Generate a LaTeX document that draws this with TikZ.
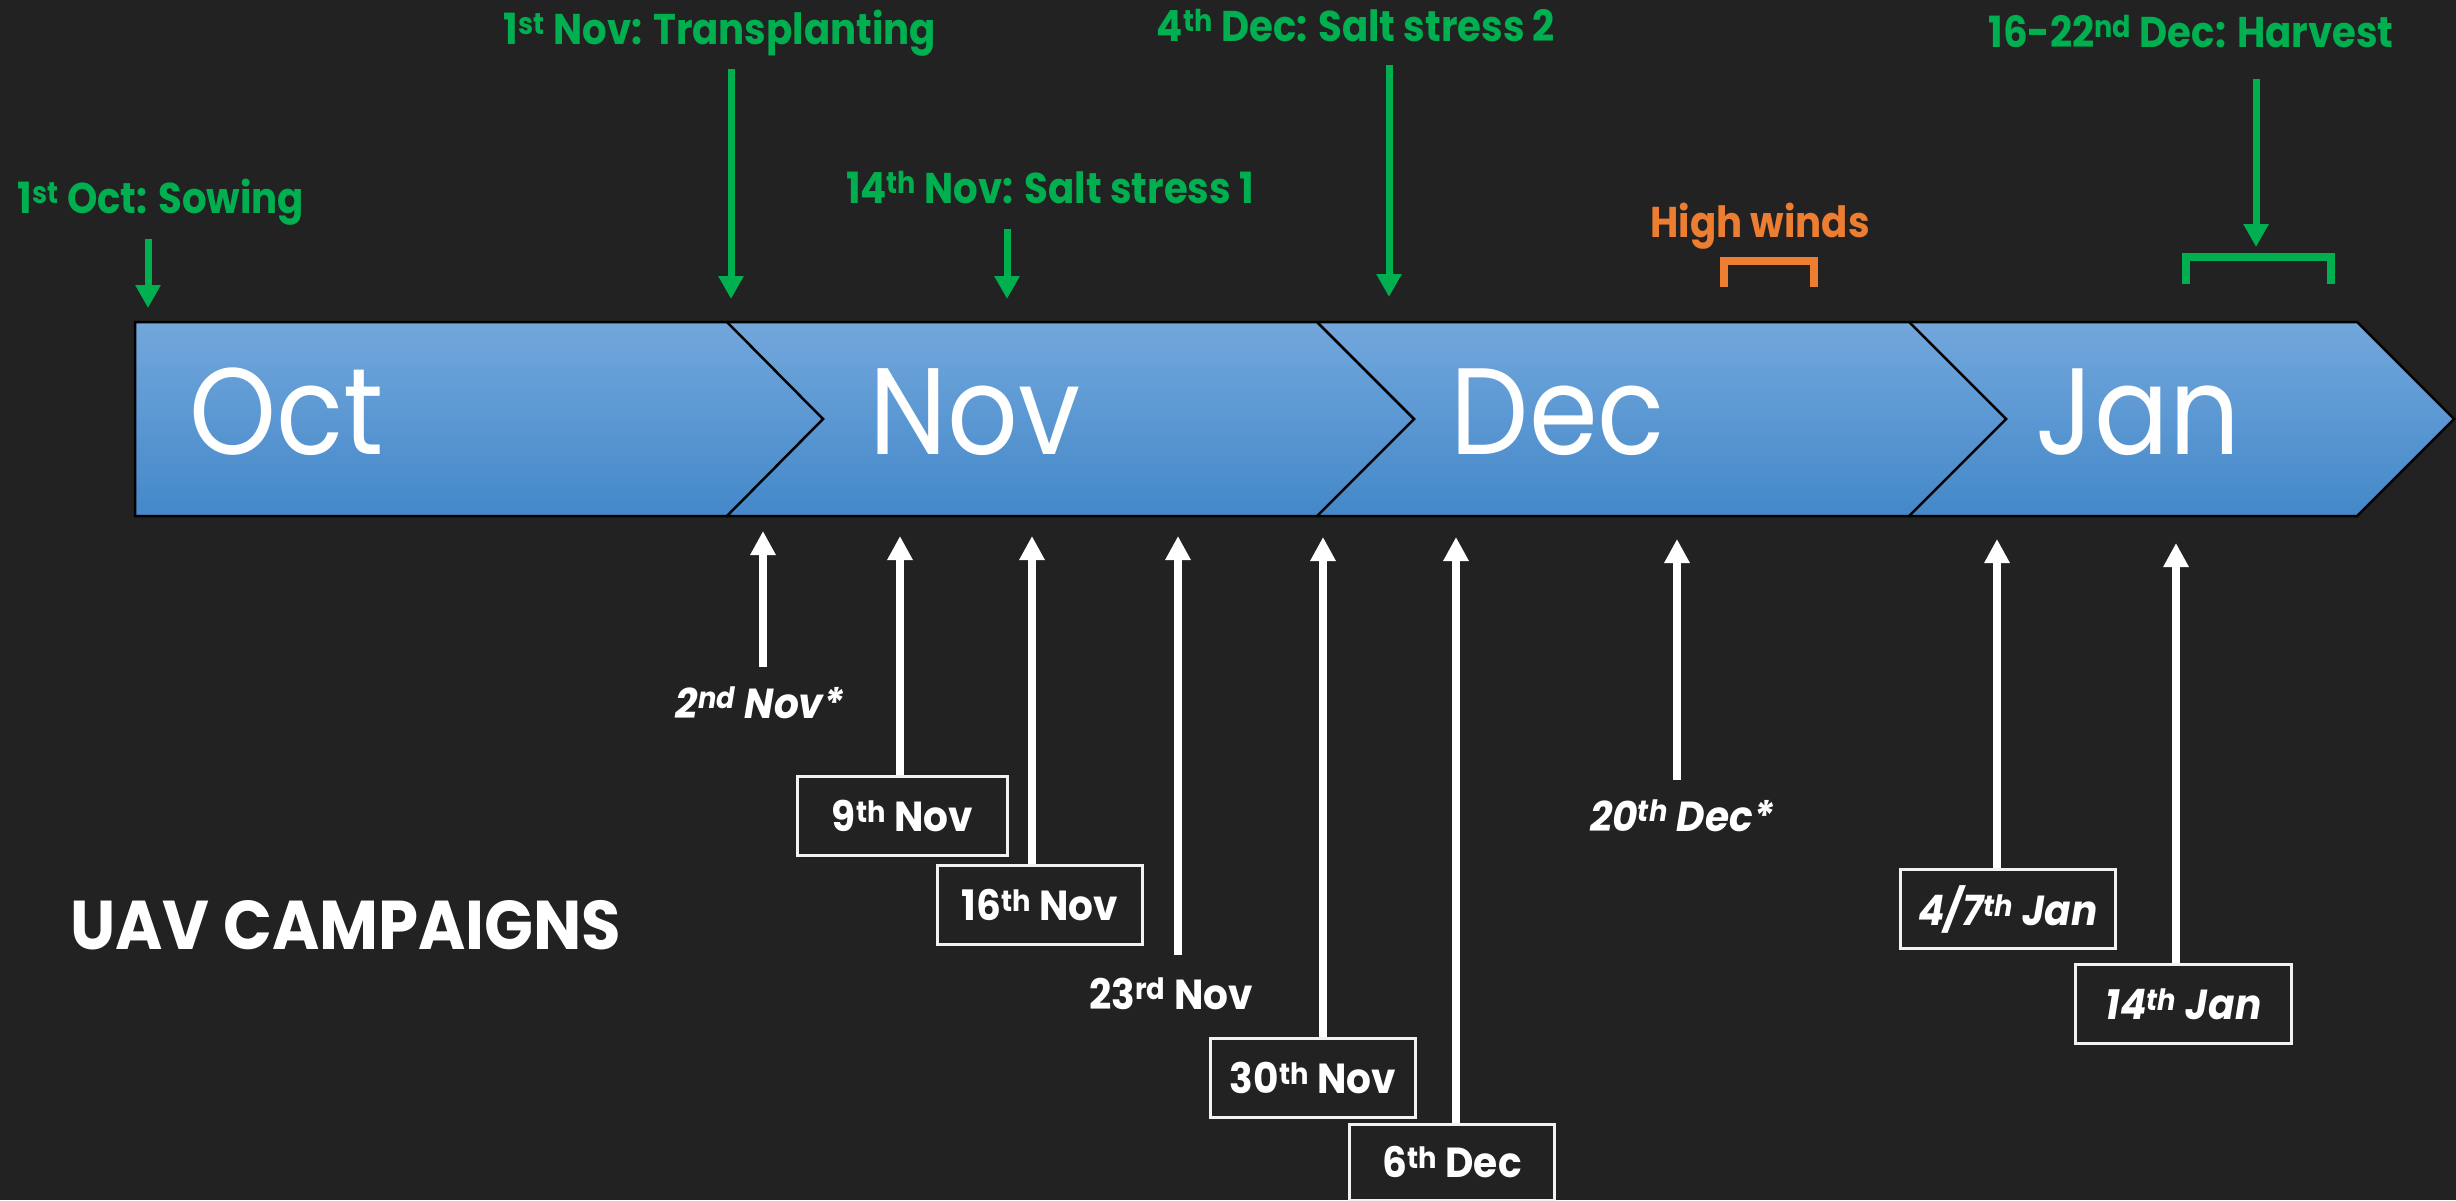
\documentclass[tikz,border=0pt]{standalone}
\usepackage{fontspec}
\setmainfont{Poppins}[FakeStretch=0.93]
\newfontfamily\gfont{Poppins}[FakeStretch=0.9]
\newfontfamily\monthfont{Poppins}[FakeStretch=0.9]
\usetikzlibrary{arrows.meta}
\definecolor{bg}{HTML}{222222}
\definecolor{grn}{HTML}{00B050}
\definecolor{org}{HTML}{ED7D31}
\definecolor{bandtop}{HTML}{72A7DC}
\definecolor{bandbot}{HTML}{4488C9}
\definecolor{boxline}{HTML}{F2F2F2}
\begin{document}
\begin{tikzpicture}[x=1pt,y=-1pt,
  month/.style={text=white,font=\monthfont\fontsize{123}{130}\selectfont,inner sep=0pt,anchor=base},
  glab/.style={text=grn,font=\gfont\bfseries\fontsize{43}{50}\selectfont,inner sep=0pt,anchor=base},
  olab/.style={text=org,font=\gfont\bfseries\fontsize{43}{50}\selectfont,inner sep=0pt,anchor=base},
  wlab/.style={text=white,font=\bfseries\fontsize{42}{48}\selectfont,inner sep=0pt,anchor=base},
  wilab/.style={text=white,font=\bfseries\itshape\fontsize{42}{48}\selectfont,inner sep=0pt,anchor=base},
  datebox/.style={draw=boxline,line width=3pt,text=white,font=\bfseries\fontsize{42}{48}\selectfont,
    minimum height=79pt,inner sep=0pt,anchor=north west},
  garr/.style={draw=grn,line width=7pt,-{Triangle[width=24pt,length=23pt]}},
  warr/.style={draw=white,line width=8pt,-{Triangle[width=24pt,length=24pt]}},
  brk/.style={line width=8pt}
]
\useasboundingbox (0,0) rectangle (2456,1200);
\fill[bg] (0,0) rectangle (2456,1200);

% band
\shade[top color=bandtop,bottom color=bandbot] (135,322) -- (727,322) -- (823,419) -- (727,516) -- (135,516) -- cycle;
\shade[top color=bandtop,bottom color=bandbot] (727,322) -- (1317,322) -- (1414,419) -- (1317,516) -- (727,516) -- (823,419) -- cycle;
\shade[top color=bandtop,bottom color=bandbot] (1317,322) -- (1909,322) -- (2006,419) -- (1909,516) -- (1317,516) -- (1414,419) -- cycle;
\shade[top color=bandtop,bottom color=bandbot] (1909,322) -- (2357,322) -- (2454,419) -- (2357,516) -- (1909,516) -- (2006,419) -- cycle;
\begin{scope}[draw=black,line width=2.5pt,line join=miter]
\draw (135,322) -- (727,322) -- (823,419) -- (727,516) -- (135,516) -- cycle;
\draw (727,322) -- (1317,322) -- (1414,419) -- (1317,516) -- (727,516);
\draw (1317,322) -- (1909,322) -- (2006,419) -- (1909,516) -- (1317,516);
\draw (1909,322) -- (2357,322) -- (2454,419) -- (2357,516) -- (1909,516);
\end{scope}

\node[month] (moct) at (287,454) {Oct};
\node[month] (mnov) at (975,454) {Nov};
\node[month] (mdec) at (1558,454) {Dec};
\node[month] (mjan) at (2138,454) {Jan};

% green events
\node[glab] (gsow) at (161,213) {1\textsuperscript{st} Oct: Sowing};
\node[glab] (gtra) at (720,44) {1\textsuperscript{st} Nov: Transplanting};
\node[glab] (gss1) at (1050,203) {14\textsuperscript{th} Nov: Salt stress 1};
\node[glab] (gss2) at (1356,41) {4\textsuperscript{th} Dec: Salt stress 2};
\node[glab] (ghar) at (2191,47) {16-22\textsuperscript{nd} Dec: Harvest};
\node[olab] (owind) at (1760,237) {High winds};

\coordinate (asow) at (148,308);
\coordinate (atra) at (731,299);
\coordinate (ass1) at (1007,299);
\coordinate (ass2) at (1389,297);
\coordinate (ahar) at (2256,247);
\draw[garr,shorten <=14pt] (gsow.south -| asow) -- (asow);
\draw[garr,shorten <=13pt] (gtra.south -| atra) -- (atra);
\draw[garr,shorten <=25pt] (gss1.south -| ass1) -- (ass1);
\draw[garr,shorten <=23pt] (gss2.south -| ass2) -- (ass2);
\draw[garr,shorten <=31pt] (ghar.south -| ahar) -- (ahar);

% brackets
\draw[brk,org] (1724,287) -- (1724,261) -- (1814,261) -- (1814,287);
\draw[brk,grn] (2186,284) -- (2186,257) -- (2331,257) -- (2331,284);

% UAV campaigns
\node[text=white,font=\bfseries\fontsize{69}{76}\selectfont,inner sep=0pt,anchor=base west] (uav) at (70,949) {UAV CAMPAIGNS};

% campaign labels
\node[wilab] (l2) at (760,718) {2\textsuperscript{nd} Nov*};
\node[datebox,minimum width=210pt] (b9) at (796,775) {9\textsuperscript{th} Nov\hspace{24pt}};
\node[datebox,minimum width=205pt] (b16) at (936,864) {16\textsuperscript{th} Nov\hspace{8pt}};
\node[wlab] (l23) at (1171,1009) {23\textsuperscript{rd} Nov};
\node[datebox,minimum width=205pt] (b30) at (1209,1037) {30\textsuperscript{th} Nov\hspace{6pt}};
\node[datebox,minimum width=205pt,minimum height=76pt] (b6) at (1348,1123) {6\textsuperscript{th} Dec\hspace{8pt}};
\node[wilab] (l20) at (1682,831) {20\textsuperscript{th} Dec*};
\node[datebox,minimum width=215pt,font=\bfseries\itshape\fontsize{42}{48}\selectfont] (b47) at (1899,868) {4/7\textsuperscript{th} Jan\hspace{22pt}};
\node[datebox,minimum width=216pt,font=\bfseries\itshape\fontsize{42}{48}\selectfont] (b14) at (2074,963) {14\textsuperscript{th} Jan\hspace{44pt}};

\coordinate (t2) at (763,531);
\coordinate (t9) at (900,536);
\coordinate (t16) at (1032,536);
\coordinate (t23) at (1178,536);
\coordinate (t30) at (1323,537);
\coordinate (t6) at (1456,537);
\coordinate (t20) at (1677,539);
\coordinate (t47) at (1997,539);
\coordinate (t14) at (2176,543);

\draw[warr,shorten <=20pt] (l2.north -| t2) -- (t2);
\draw[warr] (b9.north -| t9) -- (t9);
\draw[warr] (b16.north -| t16) -- (t16);
\draw[warr,shorten <=22pt] (l23.north -| t23) -- (t23);
\draw[warr] (b30.north -| t30) -- (t30);
\draw[warr] (b6.north -| t6) -- (t6);
\draw[warr,shorten <=20pt] (l20.north -| t20) -- (t20);
\draw[warr] (b47.north -| t47) -- (t47);
\draw[warr] (b14.north -| t14) -- (t14);
\end{tikzpicture}
\end{document}
